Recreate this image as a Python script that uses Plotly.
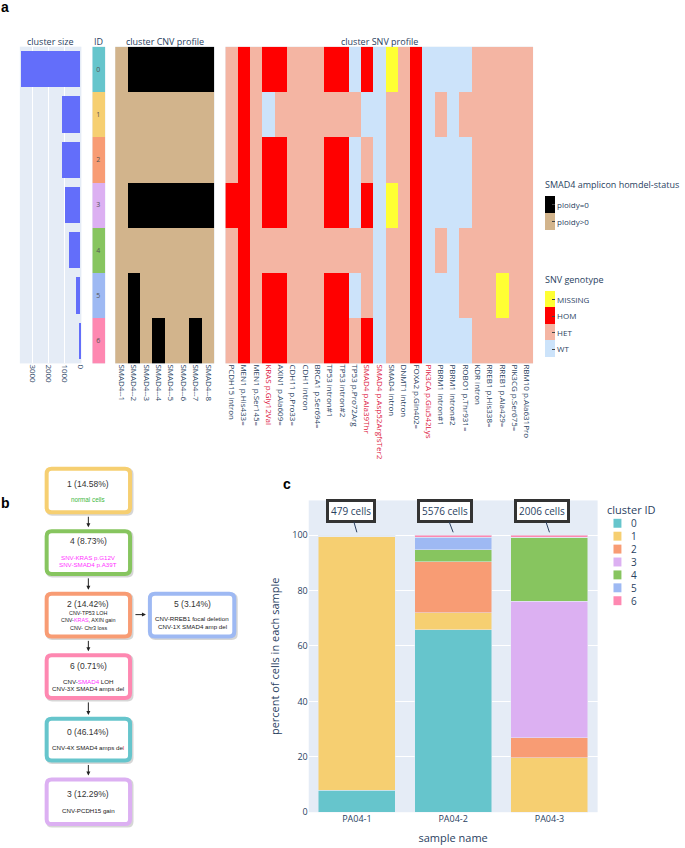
import plotly.graph_objects as go

W, H = 685, 848

# ---------------- data ----------------
cluster_ids = [0, 1, 2, 3, 4, 5, 6]
cluster_sizes = [3719, 1175, 1162, 991, 704, 253, 57]
cluster_colors = ['#66C5CC', '#F6CF71', '#F89C74', '#DCB0F2', '#87C55F', '#9EB9F3', '#FE88B1']

cnv_amplicons = ['SMAD4--1', 'SMAD4--2', 'SMAD4--3', 'SMAD4--4',
                 'SMAD4--5', 'SMAD4--6', 'SMAD4--7', 'SMAD4--8']
# 1 = ploidy=0 (homdel), 0 = ploidy>0
cnv_status = [
    [0, 1, 1, 1, 1, 1, 1, 1],
    [0, 0, 0, 0, 0, 0, 0, 0],
    [0, 0, 0, 0, 0, 0, 0, 0],
    [0, 1, 1, 1, 1, 1, 1, 1],
    [0, 0, 0, 0, 0, 0, 0, 0],
    [0, 1, 0, 0, 0, 0, 0, 0],
    [0, 1, 0, 1, 0, 0, 1, 0],
]

snv_labels = ['PCDH15 intron', 'MEN1 p.His433=', 'MEN1 p.Ser145=', 'KRAS p.Gly12Val',
              'AXIN1 p.Ala609=', 'CDH11 p.Pro33=', 'CDH1 intron', 'BRCA1 p.Ser694=',
              'TP53 intron#1', 'TP53 intron#2', 'TP53 p.Pro72Arg', 'SMAD4 p.Ala39Thr',
              'SMAD4 p.Asp52ArgfsTer2', 'SMAD4 intron', 'DNMT1 intron', 'FOXA2 p.Gln402=',
              'PIK3CA p.Glu542Lys', 'PBRM1 intron#1', 'PBRM1 intron#2', 'ROBO1 p.Thr931=',
              'KDR intron', 'RREB1 p.His338=', 'RREB1 p.Ala429=', 'PIK3CG p.Ser675=',
              'RBM10 p.Ala631Pro']
snv_highlight = ['KRAS p.Gly12Val', 'SMAD4 p.Ala39Thr', 'SMAD4 p.Asp52ArgfsTer2', 'PIK3CA p.Glu542Lys']
# WT=0, HET=1, HOM=2, MISSING=3
snv_genotype = [
    [1, 2, 1, 2, 2, 1, 1, 1, 2, 2, 0, 2, 0, 3, 1, 2, 0, 0, 0, 0, 1, 1, 1, 1, 1],
    [1, 2, 1, 0, 1, 1, 1, 1, 1, 1, 1, 0, 0, 1, 1, 2, 0, 1, 0, 1, 1, 1, 1, 1, 1],
    [1, 2, 1, 2, 2, 1, 1, 1, 2, 2, 0, 1, 0, 1, 1, 2, 0, 0, 0, 0, 1, 1, 1, 1, 1],
    [2, 2, 1, 2, 2, 1, 1, 1, 2, 2, 0, 2, 0, 3, 1, 2, 0, 0, 0, 0, 1, 1, 1, 1, 1],
    [1, 2, 1, 1, 1, 1, 1, 1, 1, 1, 1, 1, 0, 1, 1, 2, 0, 1, 0, 1, 1, 1, 1, 1, 1],
    [1, 2, 1, 2, 2, 1, 1, 1, 2, 2, 0, 1, 0, 1, 1, 2, 0, 0, 0, 1, 1, 1, 3, 1, 1],
    [1, 2, 1, 2, 2, 1, 1, 1, 2, 2, 1, 2, 0, 1, 1, 2, 0, 0, 0, 0, 1, 1, 1, 1, 1],
]
genotype_names = ['WT', 'HET', 'HOM', 'MISSING']
genotype_colors = ['#CCE3FA', '#F4B5A3', '#FF0000', '#FFFF33']

samples = ['PA04-1', 'PA04-2', 'PA04-3']
sample_cells = [479, 5576, 2006]
sample_pct = {
    0: [7.9, 65.9, 0.0],
    1: [91.6, 6.1, 19.6],
    2: [0.0, 18.4, 7.2],
    3: [0.0, 0.0, 49.4],
    4: [0.5, 4.3, 23.1],
    5: [0.0, 4.6, 0.0],
    6: [0.0, 0.7, 0.7],
}

# flow chart (panel b)
tree_nodes = [
    # id, pct, lines
    (1, 14.58, ["<span style='color:#3DB843'>normal cells</span>"]),
    (4, 8.73, ["<span style='color:#FF33FF'>SNV-KRAS p.G12V</span>",
               "<span style='color:#FF33FF'>SNV-SMAD4 p.A39T</span>"]),
    (2, 14.42, ["CNV-TP53 LOH", "CNV-<span style='color:#FF33FF'>KRAS</span>, AXIN gain", "CNV- Chr3 loss"]),
    (5, 3.14, ["CNV-RREB1 focal deletion", "CNV-1X SMAD4 amp del"]),
    (6, 0.71, ["CNV-<span style='color:#FF33FF'>SMAD4</span> LOH", "CNV-3X SMAD4 amps del"]),
    (0, 46.14, ["CNV-4X SMAD4 amps de<span style='color:#E8312F'>l</span>"]),
    (3, 12.29, ["CNV-PCDH15 gain"]),
]


# ---------------- helpers ----------------
def fx(px):
    return px / W


def fy(py):
    return 1 - py / H


def disc_scale(colors):
    n = len(colors)
    cs = []
    for i, c in enumerate(colors):
        cs.append([i / n, c])
        cs.append([(i + 1) / n, c])
    return cs


fig = go.Figure()

# ---- panel a: cluster size ----
fig.add_trace(go.Bar(x=cluster_sizes, y=cluster_ids, orientation='h', marker_color='#636EFA',
                     marker_line_width=0, xaxis='x', yaxis='y', showlegend=False, hoverinfo='skip'))

# ---- ID column ----
fig.add_trace(go.Heatmap(z=[[i] for i in cluster_ids], x=[0], y=cluster_ids,
                         colorscale=disc_scale(cluster_colors), zmin=-0.5, zmax=6.5,
                         showscale=False, text=[[str(i)] for i in cluster_ids],
                         texttemplate='%{text}', textfont=dict(size=7, color='#555555'),
                         xaxis='x2', yaxis='y2', hoverinfo='skip'))

# colorbars: total length includes the title placed on top (~15 px)
CB_TITLE = 15
cnv_len = 37 + CB_TITLE
snv_len = 70 + CB_TITLE

# ---- CNV heatmap ----
fig.add_trace(go.Heatmap(z=cnv_status, x=list(range(len(cnv_amplicons))), y=cluster_ids,
                         colorscale=[[0, '#D2B48C'], [0.5, '#D2B48C'], [0.5, '#000000'], [1, '#000000']],
                         zmin=-0.5, zmax=1.5, xaxis='x3', yaxis='y3', hoverinfo='skip',
                         colorbar=dict(x=fx(549), xanchor='left', y=fy(232), yanchor='bottom',
                                       len=cnv_len / H, lenmode='fraction', thickness=10, outlinewidth=0,
                                       tickvals=[0, 1], ticktext=['ploidy>0', 'ploidy=0'],
                                       ticks='inside', ticklen=3, tickcolor='#444',
                                       tickfont=dict(size=8, color='#2a3f5f'),
                                       xpad=0, ypad=0,
                                       title=dict(text='SMAD4 amplicon homdel-status', side='top',
                                                  font=dict(size=9, color='#2a3f5f')))))

# ---- SNV heatmap ----
fig.add_trace(go.Heatmap(z=snv_genotype, x=list(range(len(snv_labels))), y=cluster_ids,
                         colorscale=disc_scale(genotype_colors), zmin=-0.5, zmax=3.5,
                         xaxis='x4', yaxis='y4', hoverinfo='skip',
                         colorbar=dict(x=fx(549), xanchor='left', y=fy(360), yanchor='bottom',
                                       len=snv_len / H, lenmode='fraction', thickness=10, outlinewidth=0,
                                       tickvals=[0, 1, 2, 3], ticktext=genotype_names,
                                       ticks='inside', ticklen=3, tickcolor='#444',
                                       tickfont=dict(size=8, color='#2a3f5f'),
                                       xpad=0, ypad=0,
                                       title=dict(text='SNV genotype', side='top',
                                                  font=dict(size=9, color='#2a3f5f')))))

# ---- panel c: stacked bars ----
for cid in cluster_ids:
    fig.add_trace(go.Bar(x=samples, y=sample_pct[cid], name=str(cid),
                         marker_color=cluster_colors[cid], marker_line=dict(color='#E5ECF6', width=0.5),
                         xaxis='x5', yaxis='y5', showlegend=False, hoverinfo='skip'))

snv_ticktext = [("<span style='color:#DC143C'>%s</span>" % s) if s in snv_highlight else s
                for s in snv_labels]

Dy = [fy(366), fy(47)]
noax = dict(showgrid=False, zeroline=False, showline=False)
fig.update_layout(
    width=W, height=H, autosize=False,
    margin=dict(l=0, r=0, t=0, b=0),
    template='plotly',
    paper_bgcolor='white', plot_bgcolor='#E5ECF6',
    showlegend=False, barmode='stack', bargap=0.2,
    font=dict(family='Open Sans', color='#2a3f5f'),
    xaxis=dict(domain=[fx(20), fx(82)], anchor='y', range=[3813, -62],
               tickvals=[0, 1000, 2000, 3000], tickangle=90, tickfont=dict(size=8),
               showgrid=True, gridcolor='white', zeroline=False),
    yaxis=dict(domain=Dy, anchor='x', range=[6.5, -0.5], showticklabels=False, **noax),
    xaxis2=dict(domain=[fx(93), fx(106)], anchor='y2', range=[-0.5, 0.5], showticklabels=False, **noax),
    yaxis2=dict(domain=Dy, anchor='x2', range=[6.5, -0.5], showticklabels=False, **noax),
    xaxis3=dict(domain=[fx(116), fx(216)], anchor='y3', range=[-0.5, 7.5],
                tickvals=list(range(len(cnv_amplicons))), ticktext=cnv_amplicons,
                tickangle=90, tickfont=dict(size=8), **noax),
    yaxis3=dict(domain=Dy, anchor='x3', range=[6.5, -0.5], showticklabels=False, **noax),
    xaxis4=dict(domain=[fx(227), fx(537)], anchor='y4', range=[-0.5, 24.5],
                tickvals=list(range(len(snv_labels))), ticktext=snv_ticktext,
                tickangle=90, tickfont=dict(size=8), **noax),
    yaxis4=dict(domain=Dy, anchor='x4', range=[6.5, -0.5], showticklabels=False, **noax),
    xaxis5=dict(domain=[fx(311), fx(602)], anchor='y5', tickfont=dict(size=9),
                title=dict(text='sample name', font=dict(size=11), standoff=10),
                showgrid=False, zeroline=False),
    yaxis5=dict(domain=[fy(818), fy(504)], anchor='x5', range=[0, 112.5],
                tickvals=[0, 20, 40, 60, 80, 100], tickfont=dict(size=9),
                title=dict(text='percent of cells in each sample', font=dict(size=11), standoff=10),
                showgrid=True, gridcolor='white', zeroline=False),
)

ann = []
shapes = []

# panel labels
for t, x, y in [('a', 5, 7), ('b', 6, 507), ('c', 289, 487)]:
    ann.append(dict(text='<b>%s</b>' % t, x=fx(x), y=fy(y), xref='paper', yref='paper',
                    showarrow=False, font=dict(size=14, family='Liberation Sans', color='black'),
                    xanchor='center', yanchor='middle'))

# panel a titles
for t, x in [('cluster size', 51), ('ID', 99.5), ('cluster CNV profile', 166), ('cluster SNV profile', 382)]:
    ann.append(dict(text=t, x=fx(x), y=fy(42), xref='paper', yref='paper', showarrow=False,
                    font=dict(size=9, color='#2a3f5f'), xanchor='center', yanchor='middle'))

# panel c cell-count callouts
for s, n, ax in zip(samples, sample_cells, [-6, -8, -7]):
    ann.append(dict(text='%d cells' % n, x=s, y=101, xref='x5', yref='y5',
                    showarrow=True, arrowhead=0, arrowwidth=1, arrowcolor='#2a3f5f',
                    ax=ax, ay=-21, bgcolor='white', bordercolor='#333333', borderwidth=3,
                    borderpad=2, font=dict(size=10, color='#2a3f5f')))

# panel c legend (custom, compact)
ann.append(dict(text='cluster ID', x=fx(609), y=fy(513), xref='paper', yref='paper', showarrow=False,
                xanchor='left', yanchor='middle', font=dict(size=11, color='#2a3f5f')))
for k, cid in enumerate(cluster_ids):
    yc = 527 + 13 * k
    shapes.append(dict(type='rect', xref='paper', yref='paper', x0=fx(618), x1=fx(626),
                       y0=fy(yc - 4.5), y1=fy(yc + 4.5), fillcolor=cluster_colors[cid],
                       line=dict(width=0)))
    ann.append(dict(text=str(cid), x=fx(634), y=fy(yc), xref='paper', yref='paper', showarrow=False,
                    xanchor='left', yanchor='middle', font=dict(size=10, color='#2a3f5f')))


# panel b flow chart
def rrect_path(x0, y0, x1, y1, r):
    pts = [('M', x0 + r, y0), ('L', x1 - r, y0), ('Q', x1, y0, x1, y0 + r), ('L', x1, y1 - r),
           ('Q', x1, y1, x1 - r, y1), ('L', x0 + r, y1), ('Q', x0, y1, x0, y1 - r),
           ('L', x0, y0 + r), ('Q', x0, y0, x0 + r, y0)]
    out = []
    for p in pts:
        if p[0] == 'Q':
            out.append('Q %.5f,%.5f %.5f,%.5f' % (fx(p[1]), fy(p[2]), fx(p[3]), fy(p[4])))
        else:
            out.append('%s %.5f,%.5f' % (p[0], fx(p[1]), fy(p[2])))
    return ' '.join(out) + ' Z'


box_pos = {
    1: (45, 470, 133, 518),
    4: (45, 533, 133, 580),
    2: (45, 596, 133, 643),
    5: (149, 596, 238, 643),
    6: (45, 658, 133, 705),
    0: (45, 722, 133, 768),
    3: (45, 783, 133, 832),
}
title_off = {1: 17, 4: 12, 2: 12, 5: 12, 6: 13, 0: 15, 3: 17}
sub_start = {1: 33, 4: 28, 2: 21, 5: 27, 6: 28, 0: 31, 3: 33}
sub_step = {1: 8, 4: 8, 2: 7.5, 5: 8, 6: 7.5, 0: 8, 3: 8}
sub_size = {1: 6.3, 4: 6.2, 2: 5.4, 5: 6.2, 6: 6.2, 0: 6.2, 3: 6.2}

for cid, pct, lines in tree_nodes:
    x0, y0, x1, y1 = box_pos[cid]
    shapes.append(dict(type='path', xref='paper', yref='paper',
                       path=rrect_path(x0 + 1.5, y0 + 1.5, x1 + 1.5, y1 + 1.5, 6),
                       fillcolor='rgba(0,0,0,0.16)', line=dict(width=0)))
    shapes.append(dict(type='path', xref='paper', yref='paper',
                       path=rrect_path(x0 + 2, y0 + 2, x1 - 2, y1 - 2, 5),
                       fillcolor='white', line=dict(color=cluster_colors[cid], width=4)))
    xc = (x0 + x1) / 2
    ann.append(dict(text='%d (%.2f%%)' % (cid, pct), x=fx(xc), y=fy(y0 + title_off[cid]),
                    xref='paper', yref='paper', showarrow=False, xanchor='center', yanchor='middle',
                    font=dict(size=8.5, family='Liberation Sans', color='#333333')))
    for j, ln in enumerate(lines):
        ann.append(dict(text=ln, x=fx(xc), y=fy(y0 + sub_start[cid] + j * sub_step[cid]),
                        xref='paper', yref='paper', showarrow=False, xanchor='center', yanchor='middle',
                        font=dict(size=sub_size[cid], family='Liberation Sans', color='#222222')))

# arrows between boxes
for (xt, yt, ax, ay) in [(89, 531, 0, -12), (89, 594, 0, -13), (89, 656, 0, -12),
                         (89, 720, 0, -14), (89, 781, 0, -12), (147, 619, -12, 0)]:
    ann.append(dict(text='', x=fx(xt), y=fy(yt), xref='paper', yref='paper', showarrow=True,
                    arrowhead=2, arrowsize=0.8, arrowwidth=1, arrowcolor='#222222', ax=ax, ay=ay))

fig.update_layout(annotations=ann, shapes=shapes)
fig.write_html('out.html', config={'displayModeBar': False},
               post_script="document.body.style.margin='0';document.body.style.padding='0';")
